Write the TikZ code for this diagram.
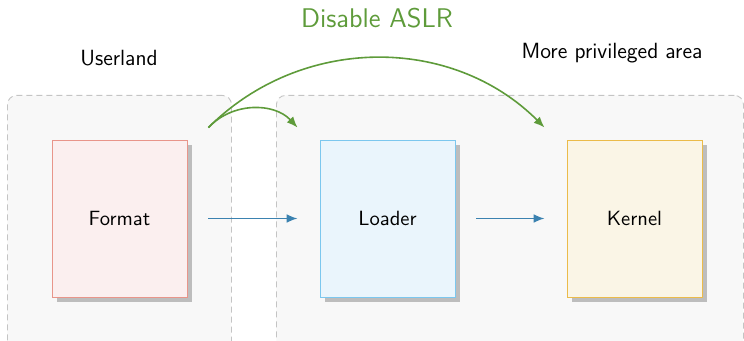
\documentclass[tikz,border=0pt]{standalone}
\usetikzlibrary{arrows.meta,shadows}
\definecolor{zonefill}{HTML}{F8F8F8}
\definecolor{zoneline}{HTML}{C4C4C4}
\definecolor{fmtfill}{HTML}{FBEFEF}
\definecolor{fmtline}{HTML}{E8958A}
\definecolor{ldfill}{HTML}{EAF5FC}
\definecolor{ldline}{HTML}{7CC7EE}
\definecolor{knfill}{HTML}{FAF5E6}
\definecolor{knline}{HTML}{EBBB4A}
\definecolor{aslrgreen}{HTML}{5E9B3A}
\definecolor{flowblue}{HTML}{3B82B0}
\definecolor{shadowgray}{HTML}{BDBDBD}
\tikzset{
  zone/.style={draw=zoneline, fill=zonefill, dash pattern=on 3pt off 2pt, line width=0.45pt, rounded corners=4.5pt},
  stage/.style={rectangle, minimum width=67.5pt, minimum height=78.5pt, line width=0.45pt,
    drop shadow={shadow xshift=2.5pt, shadow yshift=-2.5pt, fill=shadowgray, opacity=1},
    font=\sffamily\fontsize{10.3}{12}\selectfont, text=black, inner sep=0pt},
  lbl/.style={font=\sffamily\fontsize{11}{13}\selectfont, text=black, inner sep=0pt},
  flow/.style={draw=flowblue, line width=0.8pt, -{Latex[length=5.5pt,width=4.4pt]}, shorten <=10.5pt, shorten >=11pt},
  aslr/.style={draw=aslrgreen, line width=0.8pt, -{Latex[length=5.5pt,width=4.4pt]}},
}
\begin{document}
\begin{tikzpicture}[x=0.5pt,y=-0.5pt]
\useasboundingbox (0,0) rectangle (744,341);
\clip (0,0) rectangle (744,341);
% zones
\node[zone, minimum width=112pt, minimum height=130pt, anchor=north west] (user) at (7,95) {};
\node[zone, minimum width=233.5pt, minimum height=130pt, anchor=north west] (priv) at (276,95) {};
% stages
\node[stage, draw=fmtline, fill=fmtfill] (fmt) at (119.5,218.5) {Format};
\node[stage, draw=ldline, fill=ldfill] (ld) at (387.5,218.5) {Loader};
\node[stage, draw=knline, fill=knfill] (kn) at (634.5,218.5) {Kernel};
% labels
\node[lbl] (ul) at (119,58) {Userland};
\node[lbl] (pl) at (612,53) {More privileged area};
\node[lbl, text=aslrgreen, font=\sffamily\fontsize{13.5}{16}\selectfont] (dl) at (377,18.5) {Disable ASLR};
% flow arrows
\draw[flow] (fmt) -- (ld);
\draw[flow] (ld) -- (kn);
% green arrows
\coordinate (g0) at ([xshift=10.5pt,yshift=6pt]fmt.north east);
\coordinate (g1) at ([xshift=-11pt,yshift=6pt]ld.north west);
\coordinate (g2) at ([xshift=-11pt,yshift=6pt]kn.north west);
\draw[aslr] (g0) to[bend left=47] (g1);
\draw[aslr] (g0) to[bend left=45] (g2);
\end{tikzpicture}
\end{document}
